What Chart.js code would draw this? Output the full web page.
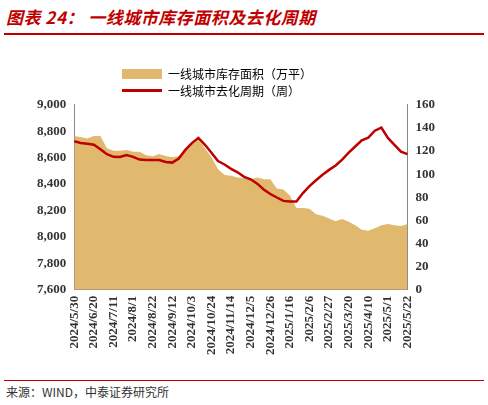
<!DOCTYPE html>
<html><head><meta charset="utf-8">
<script src="https://cdn.jsdelivr.net/npm/chart.js@4"></script>
<style>
body{margin:0;width:488px;height:405px;background:#fff;position:relative;font-family:"Noto Sans CJK SC";overflow:hidden}
#title{position:absolute;left:6px;top:4px;color:#c00000;font-size:17px;font-weight:bold;font-style:italic;letter-spacing:0.5px}
#tl{position:absolute;left:4px;top:33px;width:480px;height:2px;background:#c00000}
#bl{position:absolute;left:4px;top:380px;width:480px;height:1px;background:#c00000}
#src{position:absolute;left:6px;top:383px;font-size:12px;color:#333}
#wrap{position:absolute;left:0;top:94px;width:488px;height:262px}
#leg{position:absolute;left:122px;top:65px;font-size:12px;line-height:17px;z-index:2}
.r{display:flex;align-items:center}
.sw{width:40px;height:10px;margin-right:6px}
</style></head><body>
<div id="title">图表 24：&nbsp;一线城市库存面积及去化周期</div><div id="tl"></div>
<div id="leg"><div class="r"><span class="sw" style="background:#e0b96e"></span>一线城市库存面积（万平）</div>
<div class="r"><span class="sw" style="height:3px;background:#c00000"></span>一线城市去化周期（周）</div></div>
<div id="wrap"><canvas id="c"></canvas></div>
<div id="bl"></div><div id="src">来源：WIND，中泰证券研究所</div>
<script>
const dates=[];
(function(){let d=new Date(2024,4,30);for(let i=0;i<52;i++){dates.push(d.getFullYear()+'/'+(d.getMonth()+1)+'/'+d.getDate());d=new Date(d.getTime()+7*864e5);}})();
const inventory=[8763,8757,8745,8763,8763,8672,8653,8653,8657,8645,8645,8619,8610,8627,8613,8603,8613,8664,8711,8737,8672,8603,8515,8468,8463,8450,8445,8437,8450,8437,8437,8366,8358,8314,8218,8218,8213,8171,8161,8140,8119,8135,8114,8088,8054,8046,8065,8088,8098,8088,8082,8098];
const cycle=[128.4,126.9,126.3,125.4,121.5,117.3,115,114.8,116.5,115,112.6,112.3,112.3,112.3,110.5,110,113.5,121,126.9,131.4,125.4,118.6,111.4,108.4,104.6,101.6,97.7,95.6,91.8,86.7,82.8,79.8,76.9,76.3,76.3,83.7,89.6,94.7,99.5,103.7,107.5,112.6,118.6,123.9,129.3,131.6,137.6,140.3,131.4,125.4,119.5,117.3];
const font={family:'"Liberation Serif"',size:13,weight:'bold'};
new Chart(document.getElementById('c'),{
 data:{labels:dates,datasets:[
  {type:'line',data:cycle,yAxisID:'y1',borderColor:'#c00000',borderWidth:2.5,pointRadius:0,tension:0,order:0},
  {type:'line',data:inventory,yAxisID:'y',backgroundColor:'#e0b96e',borderWidth:0,pointRadius:0,fill:'start',tension:0,order:1}
 ]},
 options:{responsive:true,maintainAspectRatio:false,animation:false,
  layout:{padding:{left:34,right:50,top:3}},
  plugins:{legend:{display:false},tooltip:{enabled:false}},
  scales:{
   x:{offset:false,grid:{display:false,drawTicks:true,tickLength:5,color:'#888'},border:{color:'#888'},
     ticks:{autoSkip:false,maxRotation:90,minRotation:90,color:'#333',font,padding:1,callback:(v,i)=>i%3===0?dates[i]:''}},
   y:{min:7600,max:9000,position:'left',grid:{display:false,tickLength:5},border:{color:'#888'},
     ticks:{stepSize:200,color:'#333',font,callback:v=>v.toLocaleString('en-US')}},
   y1:{min:0,max:160,position:'right',grid:{display:false,tickLength:5},border:{color:'#888'},
     ticks:{stepSize:20,color:'#333',font}}
  }}
});
</script></body></html>
